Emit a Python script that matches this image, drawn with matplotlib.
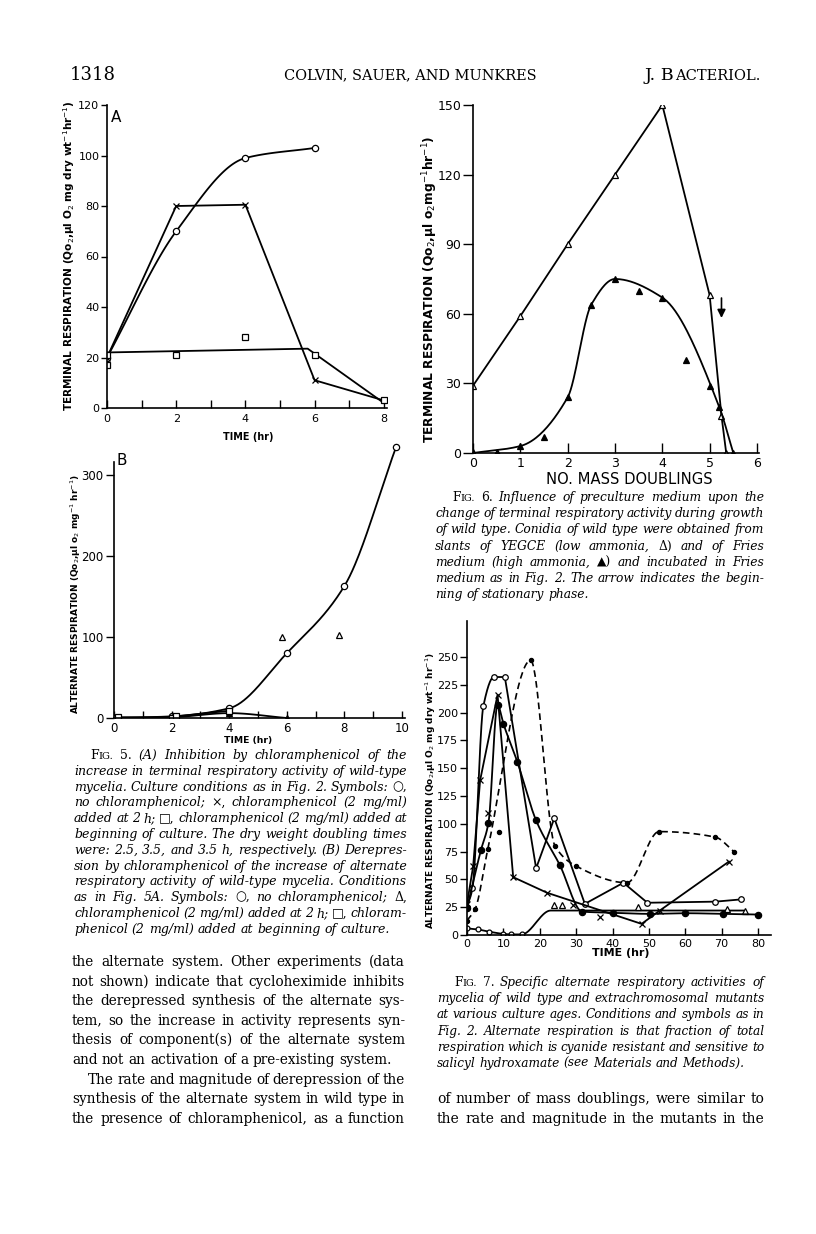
import numpy as np
import matplotlib
matplotlib.use("Agg")
import matplotlib.pyplot as plt
from matplotlib.font_manager import FontProperties

W, H, DPI = 816, 1234, 100

# ---------------- data ----------------
# Fig. 5A  terminal respiration vs time (hr)
f5a_circle_t = [0, 2, 4, 6]
f5a_circle_v = [20, 70, 99, 103]
f5a_cross_t = [0, 2, 4, 6, 8]
f5a_cross_v = [20, 80, 80.5, 11, 3]
f5a_square_t = [0, 0, 2, 4, 6, 8]
f5a_square_v = [17, 21, 21, 28, 21, 3]
f5a_square_fit_t = [0, 5.8, 8]
f5a_square_fit_v = [22, 23.5, 2]
f5a_yticks = [0, 20, 40, 60, 80, 100, 120]
f5a_xticks = [0, 1, 2, 3, 4, 5, 6, 7, 8]
f5a_xticklabels = ["0", "", "2", "", "4", "", "6", "", "8"]

# Fig. 5B  alternate respiration vs time (hr)
f5b_circle_t = [0, 2, 4, 6, 8, 9.8]
f5b_circle_v = [0, 2, 12, 80, 163, 335]
f5b_tri_t = [0, 2, 4, 6]
f5b_tri_v = [0, 1, 6, 0]
f5b_tri_extra_t = [5.85, 7.8]
f5b_tri_extra_v = [100, 102]
f5b_square_t = [0, 0.15, 2, 2.15, 4]
f5b_square_v = [0, 1, 0.5, 2, 9]
f5b_yticks = [0, 100, 200, 300]
f5b_xticks = list(range(0, 11))
f5b_xticklabels = ["0", "", "2", "", "4", "", "6", "", "8", "", "10"]

# Fig. 6  terminal respiration vs number of mass doublings
f6_open_x = [0, 1, 2, 3, 4, 5, 5.25, 5.35]
f6_open_v = [29, 59, 90, 120, 150, 68, 16, 0]
f6_fill_x = [0, 0.5, 1, 1.5, 2, 2.5, 3, 3.5, 4, 4.5, 5, 5.2, 5.5]
f6_fill_v = [0.5, 0.5, 3, 7, 24, 64, 75, 70, 67, 40, 29, 20, 0]
f6_fill_curve_x = [0, 1, 2, 2.5, 3, 4, 5.2, 5.5]
f6_fill_curve_v = [0, 3, 24, 64, 75, 67, 20, 0]
f6_arrow_x = 5.25
f6_arrow_v = [68, 57]
f6_yticks = [0, 30, 60, 90, 120, 150]
f6_xticks = [0, 1, 2, 3, 4, 5, 6]

# Fig. 7  alternate respiration vs time (hr)
f7_open_t = [0, 1.5, 4.5, 7.4, 10.4, 19, 24, 32.4, 43, 49.6, 68.3, 75.3]
f7_open_v = [25, 42, 206, 232, 232, 60, 105, 28, 47, 29, 30, 32]
f7_cross_t = [0, 1.7, 3.6, 8.4, 12.7, 22, 48, 53, 72]
f7_cross_v = [28, 62, 139, 216, 52, 38, 10, 22, 66]
f7_cross_extra_t = [5.7, 29.2, 36.7]
f7_cross_extra_v = [110, 27, 16]
f7_low_t = [0, 3, 6, 10, 12, 15, 23, 76]
f7_low_v = [6, 5, 3, 1, 0.5, 0.5, 22, 22]
f7_tri_t = [24, 26, 47, 71.5, 76.4]
f7_tri_v = [27, 27, 25, 23, 22]
f7_fill_t = [0, 3.8, 5.9, 8.4, 10, 13.8, 19, 25.5, 31.7, 40, 50.3, 59.9, 70.4, 80]
f7_fill_v = [24, 76, 101, 207, 190, 156, 103, 63, 21, 20, 19, 19.6, 19, 18.4]
f7_dash_t = [0, 2.2, 5.7, 17.5, 24.2, 30, 44, 52.8, 68.3, 73.4]
f7_dash_v = [13, 23, 77, 247, 80, 62, 47, 93, 88, 75]
f7_dot_extra_t = [8.8]
f7_dot_extra_v = [93]
f7_yticks = [0, 25, 50, 75, 100, 125, 150, 175, 200, 225, 250]
f7_xticks = [0, 10, 20, 30, 40, 50, 60, 70, 80]

# ---------------- text ----------------
header_left = "1318"
header_mid = "COLVIN, SAUER, AND MUNKRES"
header_right = ("J. B", "ACTERIOL.")

cap5 = [
    "¤FIG. §5. (A) Inhibition by chloramphenicol of the",
    "increase in terminal respiratory activity of wild-type",
    "mycelia. Culture conditions as in Fig. 2. Symbols: §○,",
    "no chloramphenicol; §×, chloramphenicol (2 mg/ml)",
    "added at 2 h; §□, chloramphenicol (2 mg/ml) added at",
    "beginning of culture. The dry weight doubling times",
    "were: 2.5, 3.5, and 3.5 h, respectively. (B) Derepres-",
    "sion by chloramphenicol of the increase of alternate",
    "respiratory activity of wild-type mycelia. Conditions",
    "as in Fig. 5A. Symbols: §○, no chloramphenicol; §Δ,",
    "chloramphenicol (2 mg/ml) added at 2 h; §□, chloram-",
    "phenicol (2 mg/ml) added at beginning of culture.",
]
cap6 = [
    "¤FIG. §6. Influence of preculture medium upon the",
    "change of terminal respiratory activity during growth",
    "of wild type. Conidia of wild type were obtained from",
    "slants of YEGCE (low ammonia, §Δ) and of Fries",
    "medium (high ammonia, §▲) and incubated in Fries",
    "medium as in Fig. 2. The arrow indicates the begin-",
    "ning of stationary phase.",
]
cap7 = [
    "¤FIG. §7. Specific alternate respiratory activities of",
    "mycelia of wild type and extrachromosomal mutants",
    "at various culture ages. Conditions and symbols as in",
    "Fig. 2. Alternate respiration is that fraction of total",
    "respiration which is cyanide resistant and sensitive to",
    "salicyl hydroxamate (see Materials and Methods).",
]
body_left = [
    "the alternate system. Other experiments (data",
    "not shown) indicate that cycloheximide inhibits",
    "the derepressed synthesis of the alternate sys-",
    "tem, so the increase in activity represents syn-",
    "thesis of component(s) of the alternate system",
    "and not an activation of a pre-existing system.",
    "The rate and magnitude of derepression of the",
    "synthesis of the alternate system in wild type in",
    "the presence of chloramphenicol, as a function",
]
body_right = [
    "of number of mass doublings, were similar to",
    "the rate and magnitude in the mutants in the",
]

# ---------------- helpers ----------------
plt.rcParams["font.family"] = ["DejaVu Sans"]
plt.rcParams["mathtext.fontset"] = "dejavusans"
SERIF = ["DejaVu Serif", "DejaVu Sans"]

fig = plt.figure(figsize=(W / DPI, H / DPI), dpi=DPI)
fig.patch.set_facecolor("white")
renderer = fig.canvas.get_renderer()


def add_axes_px(x0, x1, ybot, ytop):
    return fig.add_axes([x0 / W, 1 - ybot / H, (x1 - x0) / W, (ybot - ytop) / H])


def pchip(x, y, n=40):
    x = np.asarray(x, float)
    y = np.asarray(y, float)
    h = np.diff(x)
    d = np.diff(y) / h
    m = np.zeros_like(y)
    for k in range(1, len(x) - 1):
        if d[k - 1] * d[k] > 0:
            w1 = 2 * h[k] + h[k - 1]
            w2 = h[k] + 2 * h[k - 1]
            m[k] = (w1 + w2) / (w1 / d[k - 1] + w2 / d[k])
    m[0] = d[0]
    m[-1] = d[-1]
    xs, ys = [], []
    for k in range(len(h)):
        t = np.linspace(0, 1, n)
        h00 = 2 * t**3 - 3 * t**2 + 1
        h10 = t**3 - 2 * t**2 + t
        h01 = -2 * t**3 + 3 * t**2
        h11 = t**3 - t**2
        xs.append(x[k] + t * h[k])
        ys.append(h00 * y[k] + h10 * h[k] * m[k] + h01 * y[k + 1] + h11 * h[k] * m[k + 1])
    return np.concatenate(xs), np.concatenate(ys)


def style_axes(ax, xticks, xlabels, yticks, ylabels, fs, xlen=5, ylen=5, xpad=3, ypad=2):
    for s in ["top", "right"]:
        ax.spines[s].set_visible(False)
    for s in ["left", "bottom"]:
        ax.spines[s].set_linewidth(1.2)
    ax.set_xticks(xticks)
    ax.set_xticklabels(xlabels)
    ax.set_yticks(yticks)
    ax.set_yticklabels(ylabels)
    ax.tick_params(axis="x", direction="in", length=xlen, width=1.0, labelsize=fs, pad=xpad)
    ax.tick_params(axis="y", direction="out", length=ylen, width=1.0, labelsize=fs, pad=ypad)
    ax.patch.set_alpha(0)


def fit_text(xc, yc, s, length, rot=0, fs0=10, **kw):
    t = fig.text(xc / W, 1 - yc / H, s, rotation=rot, ha="center", va="center",
                 fontsize=fs0, **kw)
    bb = t.get_window_extent(renderer)
    cur = bb.height if rot == 90 else bb.width
    t.set_fontsize(fs0 * length / cur)
    return t


def tw(s, style, size):
    fp = FontProperties(family=SERIF, style=style, size=size)
    w, h, d = renderer.get_text_width_height_descent(s, fp, ismath=False)
    return w


def segs(word, default):
    if word.startswith("¤"):
        w = word[1:]
        return [(w[0], "normal", 1.0), (w[1:], "normal", 0.8)]
    if word.startswith("§"):
        return [(word[1:], "normal", 1.0)]
    return [(word, default, 1.0)]


def text_block(lines, x0, x1, base0, dy, default, indent=0, indent_lines=(0,),
               no_justify=(), maxsize=10.0):
    ref = 10.0
    ratios = []
    for i, line in enumerate(lines):
        xl = x0 + (indent if i in indent_lines else 0)
        words = line.split()
        wsum = sum(sum(tw(s, st, ref * sc) for s, st, sc in segs(w, default)) for w in words)
        sp = tw("x x", "normal", ref) - tw("xx", "normal", ref)
        nat = wsum + sp * 0.8 * (len(words) - 1)
        ratios.append((x1 - xl) / nat)
    size = min(maxsize, ref * min(ratios))
    sp = tw("x x", "normal", size) - tw("xx", "normal", size)
    for i, line in enumerate(lines):
        xl = x0 + (indent if i in indent_lines else 0)
        words = line.split()
        sg = [segs(w, default) for w in words]
        widths = [sum(tw(s, st, size * sc) for s, st, sc in g) for g in sg]
        if i in no_justify or len(words) < 2:
            gap = sp
        else:
            gap = (x1 - xl - sum(widths)) / (len(words) - 1)
        x = xl
        yb = base0 + i * dy
        for g, ww in zip(sg, widths):
            xx = x
            for s, st, sc in g:
                fig.text(xx / W, 1 - yb / H, s, ha="left", va="baseline",
                         fontproperties=FontProperties(family=SERIF, style=st, size=size * sc),
                         color="black")
                xx += tw(s, st, size * sc)
            x += ww + gap
    return size


LW = 1.3
MS = 4.5
open_kw = dict(mfc="white", mec="black", mew=0.9, ms=MS, ls="none")
fill_kw = dict(mfc="black", mec="black", mew=0.9, ms=MS, ls="none")

# ---------------- Fig. 5A ----------------
ax = add_axes_px(107, 107 + 8.1 * 34.6, 408, 105)
ax.set_xlim(0, 8.1)
ax.set_ylim(0, 120)
xs, ys = pchip(f5a_circle_t, f5a_circle_v)
ax.plot(xs, ys, color="black", lw=LW)
ax.plot(f5a_circle_t, f5a_circle_v, marker="o", **open_kw)
ax.plot(f5a_cross_t, f5a_cross_v, color="black", lw=LW)
ax.plot(f5a_cross_t, f5a_cross_v, marker="x", color="black", ms=MS, mew=0.9, ls="none")
ax.plot(f5a_square_fit_t, f5a_square_fit_v, color="black", lw=LW)
ax.plot(f5a_square_t, f5a_square_v, marker="s", **open_kw)
style_axes(ax, f5a_xticks, f5a_xticklabels, f5a_yticks, [str(v) for v in f5a_yticks], 8,
           xlen=6, ylen=4, xpad=4, ypad=1.5)
ax.text(0.12, 118, "A", fontsize=11, ha="left", va="top")
fit_text(69, 256, "TERMINAL RESPIRATION (Qo$_2$,μl O$_2$ mg dry wt$^{-1}$hr$^{-1}$)", 312,
         rot=90, fontweight="bold")
fit_text(248, 437, "TIME (hr)", 50, fontweight="bold")

# ---------------- Fig. 5B ----------------
ax = add_axes_px(114, 114 + 10.1 * 28.8, 718, 718 - 340 * 0.81)
ax.set_xlim(0, 10.1)
ax.set_ylim(0, 340)
ax.spines["left"].set_bounds(0, 316)
xs, ys = pchip(f5b_circle_t, f5b_circle_v)
ax.plot(xs, ys, color="black", lw=LW)
ax.plot(f5b_circle_t, f5b_circle_v, marker="o", **open_kw)
xs, ys = pchip(f5b_tri_t, f5b_tri_v)
ax.plot(xs, ys, color="black", lw=LW)
ax.plot(f5b_tri_t, f5b_tri_v, marker="^", **fill_kw)
ax.plot(f5b_tri_extra_t, f5b_tri_extra_v, marker="^", **open_kw)
ax.plot(f5b_square_t, f5b_square_v, color="black", lw=LW)
ax.plot(f5b_square_t, f5b_square_v, marker="s", **open_kw)
style_axes(ax, f5b_xticks, f5b_xticklabels, f5b_yticks, [str(v) for v in f5b_yticks], 8.5,
           xlen=5, ylen=6, xpad=3, ypad=1.5)
ax.text(0.1, 318, "B", fontsize=11, ha="left", va="center")
fit_text(76, 594, "ALTERNATE RESPIRATION (Qo$_2$,μl o$_2$ mg$^{-1}$ hr$^{-1}$)", 240,
         rot=90, fontweight="bold")
fit_text(248, 741, "TIME (hr)", 48, fontweight="bold")

# ---------------- Fig. 6 ----------------
ax = add_axes_px(473, 473 + 6.05 * 47.33, 453, 105)
ax.set_xlim(0, 6.05)
ax.set_ylim(0, 150)
ax.plot(f6_open_x, f6_open_v, color="black", lw=LW)
ax.plot(f6_open_x, f6_open_v, marker="^", **open_kw)
xs, ys = pchip(f6_fill_curve_x, f6_fill_curve_v)
ax.plot(xs, ys, color="black", lw=LW)
ax.plot(f6_fill_x, f6_fill_v, marker="^", **fill_kw)
ax.annotate("", xy=(f6_arrow_x, f6_arrow_v[1]), xytext=(f6_arrow_x, f6_arrow_v[0]),
            arrowprops=dict(arrowstyle="-|>", color="black", lw=1.2, mutation_scale=12))
style_axes(ax, f6_xticks, [str(v) for v in f6_xticks], f6_yticks,
           [str(v) for v in f6_yticks], 9, xlen=7, ylen=7, xpad=3, ypad=1.5)
fit_text(430, 289, "TERMINAL RESPIRATION (Qo$_2$,μl o$_2$mg$^{-1}$hr$^{-1}$)", 308,
         rot=90, fontweight="bold")
fit_text(629, 479, "NO. MASS DOUBLINGS", 166)

# ---------------- Fig. 7 ----------------
ax = add_axes_px(467, 467 + 83.5 * 3.6375, 935, 935 - 282 * 1.112)
ax.set_xlim(0, 83.5)
ax.set_ylim(0, 282)
xs1, ys1 = pchip(f7_open_t[:5], f7_open_v[:5])
ax.plot(np.concatenate([xs1, f7_open_t[5:]]), np.concatenate([ys1, f7_open_v[5:]]),
        color="black", lw=LW)
ax.plot(f7_open_t, f7_open_v, marker="o", **dict(open_kw, ms=4))
ax.plot(f7_cross_t, f7_cross_v, color="black", lw=LW)
ax.plot(f7_cross_t + f7_cross_extra_t, f7_cross_v + f7_cross_extra_v, marker="x",
        color="black", ms=4, mew=0.9, ls="none")
xs, ys = pchip(f7_low_t, f7_low_v)
ax.plot(xs, ys, color="black", lw=LW)
ax.plot(f7_low_t[:6], f7_low_v[:6], marker="o", **dict(open_kw, ms=3.5))
ax.plot(f7_tri_t, f7_tri_v, marker="^", **dict(open_kw, ms=4))
xs, ys = pchip(f7_fill_t, f7_fill_v)
ax.plot(xs, ys, color="black", lw=LW)
ax.plot(f7_fill_t, f7_fill_v, marker="o", **dict(fill_kw, ms=4.5))
xs, ys = pchip(f7_dash_t, f7_dash_v)
ax.plot(xs, ys, color="black", lw=1.2, ls=(0, (4, 2.5)))
ax.plot(f7_dash_t + f7_dot_extra_t, f7_dash_v + f7_dot_extra_v, marker="o",
        **dict(fill_kw, ms=3))
style_axes(ax, f7_xticks, [str(v) for v in f7_xticks], f7_yticks,
           [str(v) for v in f7_yticks], 8, xlen=5, ylen=5, xpad=3, ypad=1.5)
fit_text(431, 791, "ALTERNATE RESPIRATION (Qo$_2$,μl O$_2$ mg dry wt$^{-1}$ hr$^{-1}$)", 277,
         rot=90, fontweight="bold")
fit_text(621, 953, "TIME (hr)", 57, fontweight="bold")

# ---------------- page text ----------------
HB = 80
fig.text(70 / W, 1 - HB / H, header_left, family=SERIF, fontsize=13, va="baseline", ha="left")
fit_text(410, 75, header_mid, 252, family=SERIF)
x_r = 760
s2 = 10.5
w1 = tw(header_right[0], "normal", s2 * 1.2)
w2 = tw(header_right[1], "normal", s2)
x_start = x_r - w1 - w2
fig.text(x_start / W, 1 - HB / H, header_right[0], family=SERIF, fontsize=s2 * 1.2,
         va="baseline", ha="left")
fig.text((x_start + w1) / W, 1 - HB / H, header_right[1], family=SERIF, fontsize=s2,
         va="baseline", ha="left")

BODY0, BODYDY = 966, 19.6
text_block(cap6, 435, 764, 501, 16.2, "italic", indent=17, no_justify=(6,))
text_block(cap5, 74, 407, 759, 15.8, "italic", indent=16, no_justify=(11,))
text_block(cap7, 437, 764, 986, 16.2, "italic", indent=17, no_justify=(5,))
text_block(body_left, 72, 405, BODY0, BODYDY, "normal", indent=16, indent_lines=(6,),
           no_justify=(5,))
text_block(body_right, 437, 764, BODY0 + BODYDY * 7, BODYDY, "normal", indent=0,
           indent_lines=())

fig.savefig("out.png", dpi=DPI, facecolor="white")
